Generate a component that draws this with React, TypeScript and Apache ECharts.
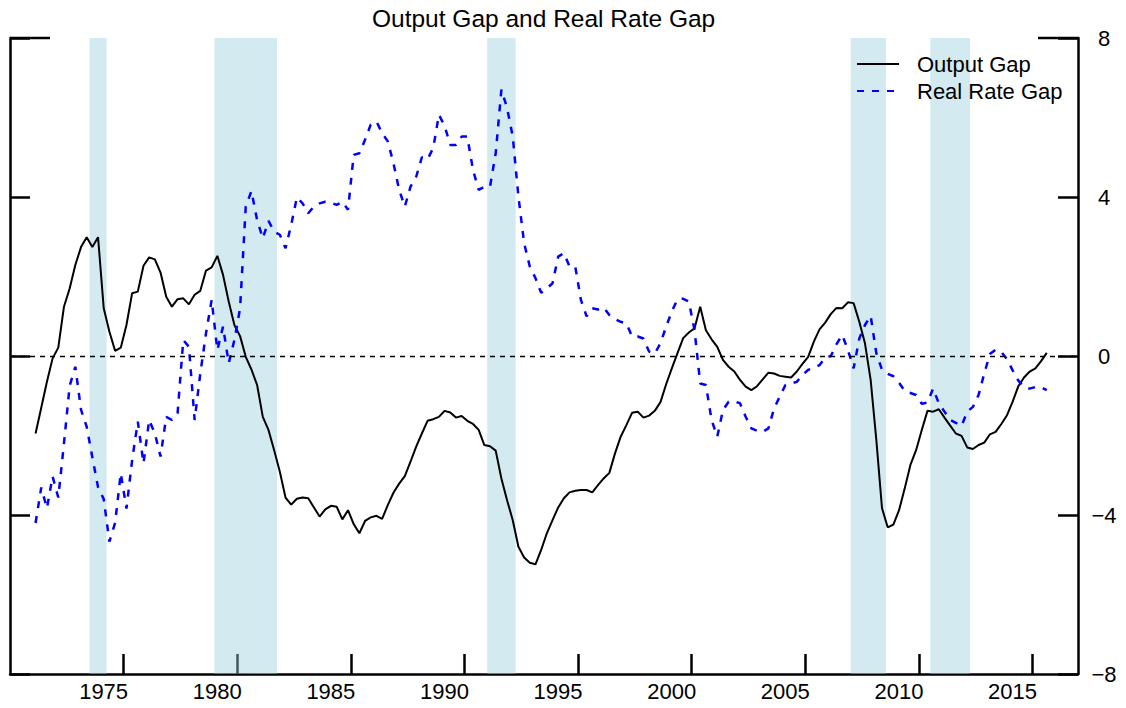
import React, { useEffect, useRef } from "react";
import * as echarts from "echarts";

// Quarterly observations; first one plotted at this position on the year axis
const FIRST_QUARTER = 1971.125;
const QUARTER = 0.25;

const seriesNames = ["Output Gap", "Real Rate Gap"];
const chartTitle = "Output Gap and Real Rate Gap";

const outputGap = [
  -1.95, -1.3, -0.65, -0.06,
  0.21, 1.24, 1.7, 2.29,
  2.74, 2.99, 2.74, 2.99,
  1.2, 0.61, 0.13, 0.21,
  0.78, 1.58, 1.62, 2.27,
  2.48, 2.43, 2.1, 1.49,
  1.24, 1.43, 1.45, 1.3,
  1.54, 1.64, 2.15, 2.23,
  2.52, 2.04, 1.37, 0.78,
  0.5, -0.02, -0.34, -0.73,
  -1.53, -1.86, -2.37, -2.91,
  -3.56, -3.74, -3.59, -3.56,
  -3.58, -3.81, -4.04, -3.86,
  -3.77, -3.79, -4.11, -3.88,
  -4.23, -4.46, -4.15, -4.06,
  -4.02, -4.1, -3.75, -3.44,
  -3.21, -3.02, -2.66, -2.28,
  -1.95, -1.63, -1.59, -1.53,
  -1.38, -1.42, -1.55, -1.51,
  -1.63, -1.71, -1.86, -2.24,
  -2.27, -2.38, -3.08, -3.63,
  -4.13, -4.8, -5.07, -5.2,
  -5.24, -4.88, -4.46, -4.13,
  -3.81, -3.58, -3.43, -3.39,
  -3.37, -3.37, -3.43, -3.25,
  -3.08, -2.94, -2.45, -2.03,
  -1.74, -1.43, -1.4, -1.55,
  -1.5, -1.38, -1.16, -0.71,
  -0.31, 0.07, 0.45, 0.59,
  0.7, 1.24, 0.65, 0.42,
  0.23, -0.1, -0.27, -0.39,
  -0.6, -0.77, -0.86, -0.76,
  -0.59, -0.42, -0.44, -0.5,
  -0.52, -0.54, -0.39, -0.2,
  -0.02, 0.36, 0.67, 0.84,
  1.06, 1.21, 1.2, 1.35,
  1.33, 0.86, 0.32, -0.6,
  -2.11, -3.83, -4.31, -4.24,
  -3.88, -3.33, -2.74, -2.37,
  -1.86, -1.38, -1.4, -1.34,
  -1.55, -1.75, -1.95, -2.01,
  -2.3, -2.34, -2.24, -2.18,
  -1.97, -1.91, -1.71, -1.49,
  -1.15, -0.76, -0.54, -0.39,
  -0.31, -0.13, 0.08,
];

const realRateGap = [
  -4.2, -3.31, -3.83, -3.03,
  -3.56, -2.2, -0.75, -0.27,
  -1.35, -1.78, -2.55, -3.3,
  -3.6, -4.67, -4.2, -2.95,
  -3.84, -2.62, -1.65, -2.7,
  -1.61, -1.95, -2.53, -1.53,
  -1.61, -1.44, 0.4, 0.23,
  -1.61, -0.44, 0.57, 1.41,
  0.15, 0.74, -0.18, 0.4,
  1.2, 3.76, 4.15, 3.42,
  2.96, 3.4, 3.13, 3.05,
  2.71, 3.3, 3.99, 3.84,
  3.59, 3.76, 3.84, 3.88,
  3.86, 3.8, 3.88, 3.68,
  5.06, 5.1, 5.44, 5.82,
  5.9, 5.61, 5.4, 4.85,
  4.18, 3.76, 4.26, 4.51,
  5.0, 4.95, 5.23, 6.07,
  5.79, 5.31, 5.31, 5.52,
  5.52, 4.68, 4.18, 4.26,
  4.26, 5.1, 6.7, 6.24,
  5.52, 4.01, 2.84, 2.25,
  1.96, 1.59, 1.7, 1.83,
  2.5, 2.59, 2.25, 2.25,
  1.41, 1.0, 1.2, 1.17,
  1.22, 1.03, 0.93, 0.86,
  0.82, 0.49, 0.49, 0.44,
  0.11, 0.06, 0.32, 0.74,
  1.12, 1.43, 1.44, 1.37,
  0.65, -0.69, -0.73, -1.61,
  -2.03, -1.36, -1.15, -1.14,
  -1.19, -1.53, -1.82, -1.88,
  -1.91, -1.82, -1.32, -1.02,
  -0.73, -0.69, -0.65, -0.48,
  -0.35, -0.29, -0.23, -0.04,
  0.0, 0.3, 0.53, 0.15,
  -0.31, 0.44, 0.78, 1.01,
  0.07, -0.35, -0.45, -0.51,
  -0.67, -0.88, -0.93, -0.98,
  -1.2, -1.17, -0.82, -1.19,
  -1.4, -1.61, -1.68, -1.76,
  -1.4, -1.28, -0.98, -0.44,
  0.05, 0.16, 0.1, -0.08,
  -0.36, -0.62, -0.78, -0.82,
  -0.78, -0.79, -0.86,
];

// Shaded periods [start, end] in years
const shadedPeriods = [
  [1973.5, 1974.25],
  [1979.0, 1981.75],
  [1991.0, 1992.25],
  [2007.0, 2008.55],
  [2010.5, 2012.25],
];

const xRange = [1970, 2017];
const xTicks = [1975, 1980, 1985, 1990, 1995, 2000, 2005, 2010, 2015];
const yRange = [-8, 8];
const yStep = 4;

const FONT = '"Liberation Sans", Arial, Helvetica, sans-serif';

function toPairs(values: number[]) {
  return values.map((v, i) => [FIRST_QUARTER + i * QUARTER, v]);
}

function yAxisBase(position: "left" | "right", showLabels: boolean) {
  return {
    type: "value",
    position,
    min: yRange[0],
    max: yRange[1],
    interval: yStep,
    axisLine: { show: true, onZero: false, lineStyle: { color: "#000", width: 2.5 } },
    axisTick: { show: true, inside: true, length: 20, lineStyle: { color: "#000", width: 2.5 } },
    axisLabel: {
      show: showLabels,
      fontSize: 22,
      color: "#000",
      fontFamily: FONT,
      align: "center",
      margin: 26,
      formatter: (v: number) => (v < 0 ? "\u2212" + Math.abs(v) : String(v)),
    },
    splitLine: { show: false },
  };
}

export default function App() {
  const ref = useRef<HTMLDivElement>(null);

  useEffect(() => {
    if (!ref.current) return;
    const chart = echarts.init(ref.current, null, { renderer: "svg" });
    const option: any = {
      animation: false,
      backgroundColor: "#fff",
      title: {
        text: chartTitle,
        left: 372,
        top: 0,
        padding: [6, 0, 0, 0],
        textStyle: { fontSize: 24.5, fontWeight: "normal", color: "#000", fontFamily: FONT },
      },
      legend: {
        orient: "vertical",
        left: 851,
        top: 48,
        itemWidth: 42,
        itemHeight: 14,
        itemGap: 5,
        itemStyle: { opacity: 0 },
        textStyle: { fontSize: 22, color: "#000", fontFamily: FONT, padding: [0, 0, 0, 13] },
        data: seriesNames,
      },
      grid: { left: 10, right: 48, top: 38, bottom: 34, containLabel: false },
      xAxis: {
        type: "value",
        min: xRange[0],
        max: xRange[1],
        axisLine: { show: true, onZero: false, lineStyle: { color: "#000", width: 2.5 } },
        axisTick: {
          show: true,
          inside: true,
          length: 20,
          customValues: xTicks,
          lineStyle: { color: "#000", width: 2.5 },
        },
        axisLabel: {
          customValues: xTicks,
          formatter: (v: number) => String(v),
          fontSize: 22,
          lineHeight: 22,
          color: "#000",
          fontFamily: FONT,
          margin: 6,
          padding: [0, 40, 0, 0],
        },
        splitLine: { show: false },
      },
      yAxis: [yAxisBase("right", true), yAxisBase("left", false)],
      series: [
        {
          name: seriesNames[0],
          type: "line",
          yAxisIndex: 0,
          data: toPairs(outputGap),
          symbol: "none",
          showSymbol: false,
          lineStyle: { color: "#000", width: 2 },
          itemStyle: { color: "#000" },
          z: 3,
          markArea: {
            silent: true,
            z: 1,
            itemStyle: { color: "rgba(150,205,220,0.42)" },
            data: shadedPeriods.map(([a, b]) => [{ xAxis: a }, { xAxis: b }]),
          },
          markLine: {
            silent: true,
            symbol: ["none", "none"],
            label: { show: false },
            lineStyle: { color: "#000", type: [5, 5], width: 1.3 },
            data: [{ yAxis: 0 }],
          },
        },
        {
          name: seriesNames[1],
          type: "line",
          yAxisIndex: 0,
          data: toPairs(realRateGap),
          symbol: "none",
          showSymbol: false,
          lineStyle: { color: "#0000ff", width: 2.5, type: [7, 8] },
          itemStyle: { color: "#0000ff" },
          z: 3,
        },
      ],
    };
    chart.setOption(option);

    // Longer tick marks at the top of both vertical axes
    const yTop = chart.convertToPixel({ yAxisIndex: 0 }, yRange[1]) as number;
    const xLeft = chart.convertToPixel({ xAxisIndex: 0 }, xRange[0]) as number;
    const xRight = chart.convertToPixel({ xAxisIndex: 0 }, xRange[1]) as number;
    chart.setOption({
      graphic: [
        { type: "line", shape: { x1: xLeft, y1: yTop, x2: xLeft + 40, y2: yTop }, style: { stroke: "#000", lineWidth: 2.5 } },
        { type: "line", shape: { x1: xRight - 40, y1: yTop, x2: xRight, y2: yTop }, style: { stroke: "#000", lineWidth: 2.5 } },
      ],
    });

    return () => chart.dispose();
  }, []);

  return (
    <div
      ref={ref}
      style={{ position: "absolute", left: 0, top: 0, width: 1126, height: 708, background: "#fff" }}
    />
  );
}
